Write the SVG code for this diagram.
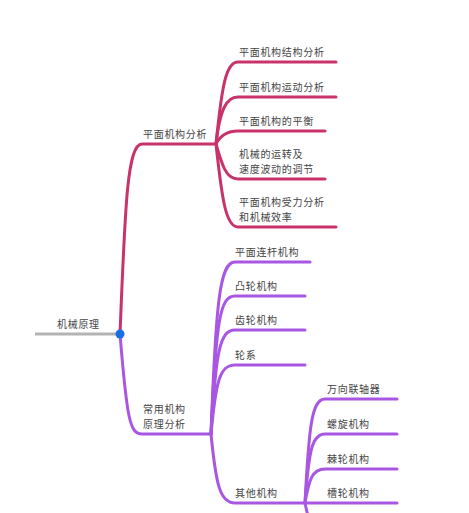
<svg xmlns="http://www.w3.org/2000/svg" width="469" height="513" viewBox="0 0 469 513">
<style>
text{font-family:"Noto Sans CJK SC","Noto Sans",sans-serif;font-size:10px;fill:#444;letter-spacing:0.7px}
.r{fill:none;stroke:#c9336b;stroke-width:3;stroke-linecap:round}
.p{fill:none;stroke:#a956e2;stroke-width:3;stroke-linecap:round}
.g{fill:none;stroke:#b3b3b3;stroke-width:3}
</style>
<rect width="469" height="513" fill="#fff"/>
<g id="connectors">
<path class="g" d="M35 334 L120 334"/>
<path class="r" d="M120 334 C125 210,127 144,142 144 L216 144"/>
<path class="p" d="M120 334 C127 420,130 434,142 434 L211 434"/>
<path class="r" d="M216 144 C222 85,226 62,238 62 L336 62"/>
<path class="r" d="M216 144 C220 110,226 97,238 97 L336 97"/>
<path class="r" d="M216 144 C220 136,226 131,238 131 L325 131"/>
<path class="r" d="M216 144 C222 165,226 179,238 179 L325 179"/>
<path class="r" d="M216 144 C222 200,226 227,238 227 L336 227"/>
<path class="p" d="M211 434 C216 300,220 262,235 262 L310 262"/>
<path class="p" d="M211 434 C216 320,220 296,235 296 L305 296"/>
<path class="p" d="M211 434 C216 350,220 330,235 330 L305 330"/>
<path class="p" d="M211 434 C216 380,220 365,235 365 L305 365"/>
<path class="p" d="M211 434 C216 485,220 503,235 503 L397 503"/>
<path class="p" d="M305 503 C309 425,312 399,325 399 L397 399"/>
<path class="p" d="M305 503 C309 450,312 434,325 434 L397 434"/>
<path class="p" d="M305 503 C309 480,312 469,325 469 L397 469"/>
<path class="p" d="M305 503 C306 508,307 512,308 516"/>
</g>
<g id="root"><circle cx="120" cy="334" r="4.5" fill="#1a6fe0"/><text x="57" y="328">机械原理</text></g>
<g id="n1"><text x="143" y="138">平面机构分析</text></g>
<g id="n1a"><text x="239" y="56">平面机构结构分析</text></g>
<g id="n1b"><text x="239" y="91">平面机构运动分析</text></g>
<g id="n1c"><text x="239" y="125">平面机构的平衡</text></g>
<g id="n1d"><text x="239" y="158">机械的运转及</text><text x="239" y="173">速度波动的调节</text></g>
<g id="n1e"><text x="239" y="206">平面机构受力分析</text><text x="239" y="221">和机械效率</text></g>
<g id="n2"><text x="143" y="413">常用机构</text><text x="143" y="428">原理分析</text></g>
<g id="n2a"><text x="235" y="256">平面连杆机构</text></g>
<g id="n2b"><text x="235" y="290">凸轮机构</text></g>
<g id="n2c"><text x="235" y="324">齿轮机构</text></g>
<g id="n2d"><text x="235" y="359">轮系</text></g>
<g id="n2e"><text x="235" y="497">其他机构</text></g>
<g id="n2e1"><text x="327" y="393">万向联轴器</text></g>
<g id="n2e2"><text x="327" y="428">螺旋机构</text></g>
<g id="n2e3"><text x="327" y="463">棘轮机构</text></g>
<g id="n2e4"><text x="327" y="497">槽轮机构</text></g>
</svg>
